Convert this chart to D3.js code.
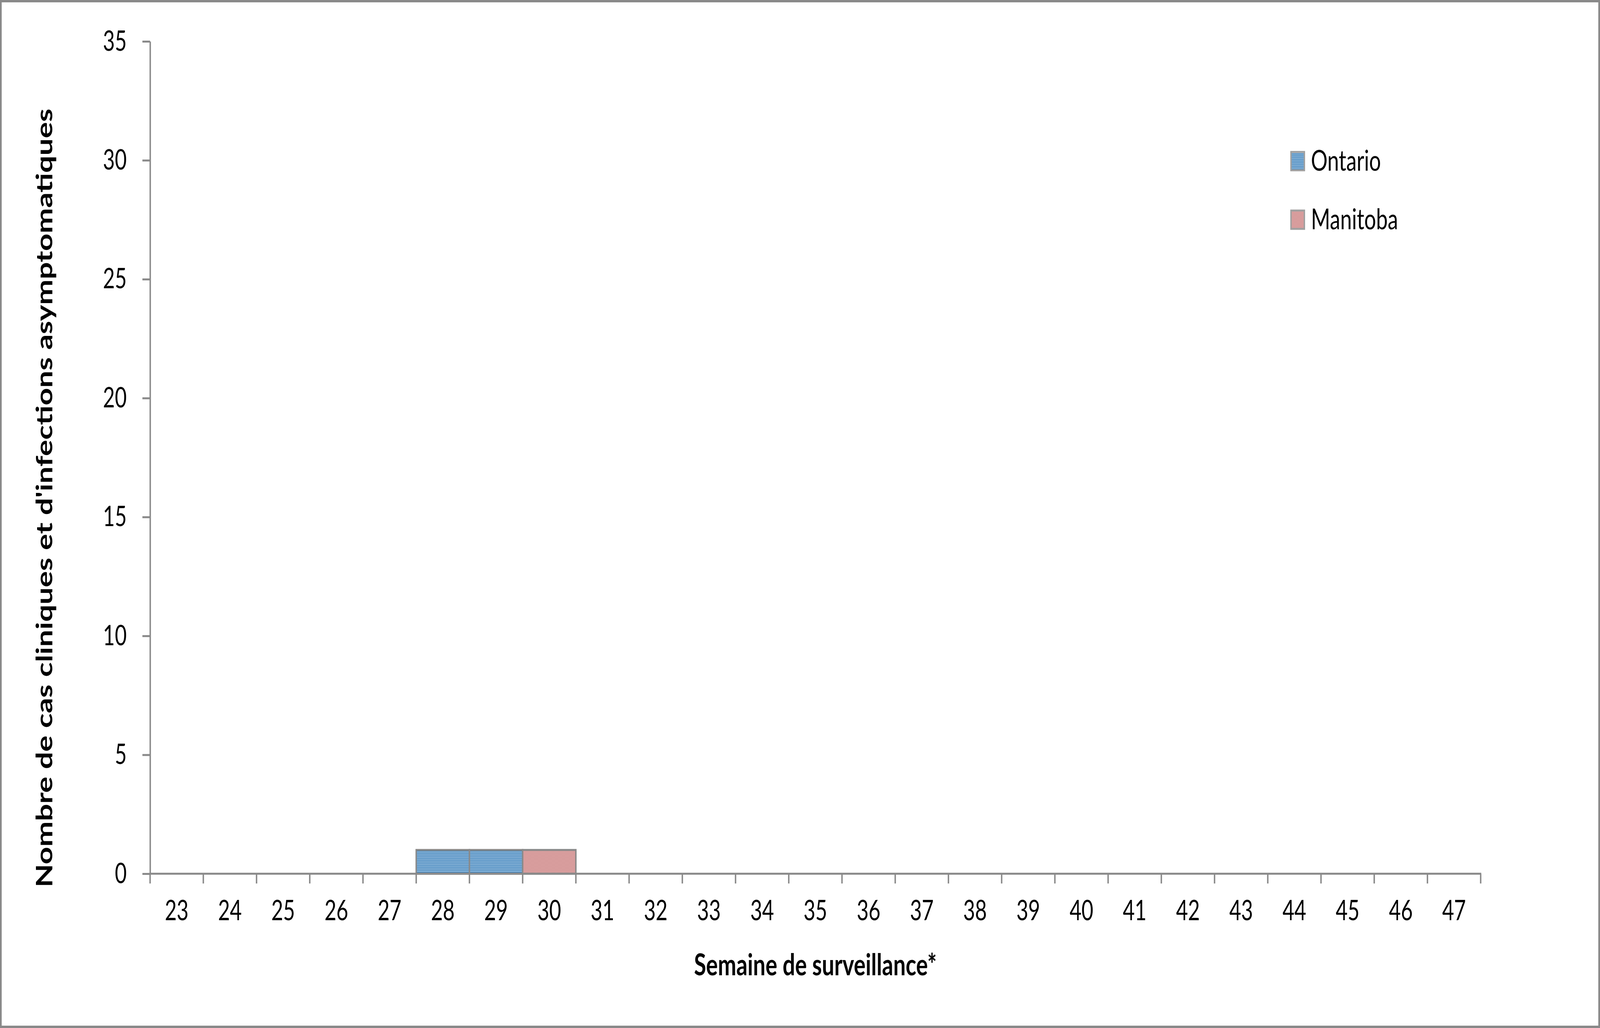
<!DOCTYPE html>
<html>
<head>
<meta charset="utf-8">
<script src="https://cdn.jsdelivr.net/npm/d3@7"></script>
<style>
  html, body { margin: 0; padding: 0; background: #fff; overflow: hidden; }
  svg { display: block; }
  text { font-family: Lato, "Open Sans", sans-serif; fill: #000; }
</style>
</head>
<body>
<div id="chart"></div>
<script>
// data
var weeks = ["23","24","25","26","27","28","29","30","31","32","33","34","35","36","37","38","39","40","41","42","43","44","45","46","47"];
var ontario  = [0,0,0,0,0,1,1,0,0,0,0,0,0,0,0,0,0,0,0,0,0,0,0,0,0];
var manitoba = [0,0,0,0,0,0,0,1,0,0,0,0,0,0,0,0,0,0,0,0,0,0,0,0,0];
var series = ["Ontario", "Manitoba"];
var yTicks = [0, 5, 10, 15, 20, 25, 30, 35];

var width = 5618, height = 2632;
var plotLeft = 527, plotRight = 5199, plotTop = 106, plotBottom = 2237;
var axisColor = "#898989";

// the window may be clamped narrower than 5618, so draw in a fixed
// 5618x2632 space and stretch it to whatever the viewport is
var svg = d3.select("#chart").append("svg")
    .attr("width", window.innerWidth || width)
    .attr("height", window.innerHeight || height)
    .attr("viewBox", [0, 0, width, height])
    .attr("preserveAspectRatio", "none");

// patterns
var defs = svg.append("defs");
var pOn = defs.append("pattern")
    .attr("id", "pat-ontario")
    .attr("patternUnits", "userSpaceOnUse")
    .attr("width", 8).attr("height", 3.6);
pOn.append("rect").attr("width", 8).attr("height", 3.6).attr("fill", "#fff");
pOn.append("rect").attr("width", 8).attr("height", 2.3).attr("fill", "#1f6fb2");

var pMa = defs.append("pattern")
    .attr("id", "pat-manitoba")
    .attr("patternUnits", "userSpaceOnUse")
    .attr("width", 2).attr("height", 2);
pMa.append("rect").attr("width", 2).attr("height", 2).attr("fill", "#fff");
pMa.append("rect").attr("width", 1).attr("height", 1).attr("fill", "#b03a3a");
pMa.append("rect").attr("x", 1).attr("y", 1).attr("width", 1).attr("height", 1).attr("fill", "#b03a3a");

var fills = { "Ontario": "url(#pat-ontario)", "Manitoba": "url(#pat-manitoba)" };

// outer frame
svg.append("rect")
    .attr("x", 3).attr("y", 3)
    .attr("width", width - 6).attr("height", height - 6)
    .attr("fill", "#fff")
    .attr("stroke", axisColor)
    .attr("stroke-width", 6);

var x = d3.scaleBand().domain(weeks).range([plotLeft, plotRight]).padding(0);
var y = d3.scaleLinear().domain([0, 35]).range([plotBottom, plotTop]);

var table = weeks.map((w, i) => ({ week: w, Ontario: ontario[i], Manitoba: manitoba[i] }));
var stacked = d3.stack().keys(series)(table);

// bars
svg.append("g")
  .selectAll("g")
  .data(stacked)
  .join("g")
    .attr("fill", d => fills[d.key])
  .selectAll("rect")
  .data(d => d.filter(v => v[1] - v[0] > 0))
  .join("rect")
    .attr("x", d => x(d.data.week))
    .attr("y", d => y(d[1]))
    .attr("width", x.bandwidth())
    .attr("height", d => y(d[0]) - y(d[1]))
    .attr("stroke", axisColor)
    .attr("stroke-width", 5);

// y axis
var gy = svg.append("g")
    .attr("transform", "translate(" + plotLeft + ",0)")
    .call(d3.axisLeft(y).tickValues(yTicks).tickSizeInner(27).tickSizeOuter(0).tickPadding(55));
gy.select(".domain").attr("stroke", axisColor).attr("stroke-width", 5);
gy.selectAll(".tick line").attr("stroke", axisColor).attr("stroke-width", 5);
gy.selectAll(".tick text").attr("font-size", 72).attr("font-family", "Lato").attr("fill", "#000");

// x axis: line + ticks at category boundaries
var gx = svg.append("g").attr("transform", "translate(0," + plotBottom + ")");
gx.append("line")
    .attr("x1", plotLeft - 2).attr("x2", plotRight + 2)
    .attr("stroke", axisColor).attr("stroke-width", 5);
var bounds = weeks.map(w => x(w)).concat([x(weeks[weeks.length - 1]) + x.bandwidth()]);
gx.selectAll(".bt")
  .data(bounds)
  .join("line")
    .attr("class", "bt")
    .attr("x1", d => d).attr("x2", d => d)
    .attr("y1", 0).attr("y2", 25)
    .attr("stroke", axisColor).attr("stroke-width", 5);
gx.selectAll(".lab")
  .data(weeks)
  .join("text")
    .attr("class", "lab")
    .attr("x", d => x(d) + x.bandwidth() / 2)
    .attr("y", 2356 - plotBottom)
    .attr("text-anchor", "middle")
    .attr("font-size", 72)
    .text(d => d);

// axis titles
function fit(sel, target) {
  var w = sel.node().getComputedTextLength();
  var fs = +sel.attr("font-size");
  sel.attr("font-size", fs * target / w);
}

var xt = svg.append("text")
    .attr("x", (plotLeft + plotRight) / 2)
    .attr("y", 2497)
    .attr("text-anchor", "middle")
    .attr("font-weight", "bold")
    .attr("font-size", 78)
    .text("Semaine de surveillance*");
fit(xt, 852);

var yt = svg.append("text")
    .attr("transform", "translate(184,1275) rotate(-90)")
    .attr("text-anchor", "middle")
    .attr("font-weight", "bold")
    .attr("font-size", 78)
    .text("Nombre de cas cliniques et d'infections asymptomatiques");
fit(yt, 1994);

// legend
var legend = svg.append("g")
  .selectAll("g")
  .data(series)
  .join("g")
    .attr("transform", (d, i) => "translate(4533," + (389 + i * 150) + ")");
legend.append("rect")
    .attr("width", 47).attr("height", 47)
    .attr("fill", d => fills[d])
    .attr("stroke", "#a0a0a0")
    .attr("stroke-width", 5);
legend.append("text")
    .attr("x", 70)
    .attr("y", 48)
    .attr("font-size", 73)
    .text(d => d);
</script>
</body>
</html>
